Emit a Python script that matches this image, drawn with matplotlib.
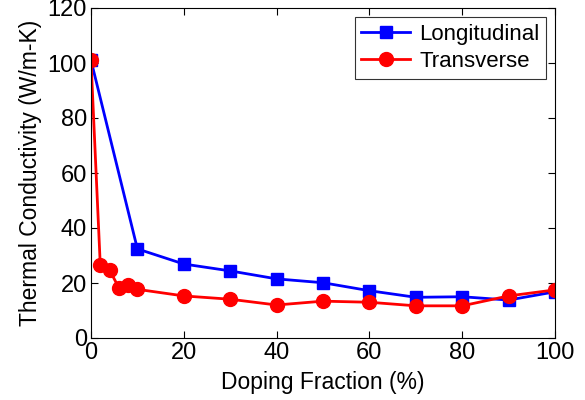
import numpy as np
import matplotlib.pyplot as plt

plt.rcParams['font.family'] = ['Liberation Sans', 'DejaVu Sans']

# Data
x_long = [0, 10, 20, 30, 40, 50, 60, 70, 80, 90, 100]
y_long = [101, 32.4, 26.9, 24.4, 21.5, 20.1, 17.2, 14.8, 15.0, 13.8, 16.8]

x_trans = [0, 2, 4, 6, 8, 10, 20, 30, 40, 50, 60, 70, 80, 90, 100]
y_trans = [101, 26.5, 24.7, 18.3, 19.3, 17.7, 15.3, 14.1, 12.0, 13.4, 13.0, 11.7, 11.7, 15.3, 17.5]

fig = plt.figure(figsize=(5.85, 4), dpi=100)
ax = fig.add_axes([91/585, 62/400, 464/585, 330/400])

ax.plot(x_long, y_long, color='blue', marker='s', markersize=9, linewidth=2, label='Longitudinal')
ax.plot(x_trans, y_trans, color='red', marker='o', markersize=10, linewidth=2, label='Transverse')

ax.set_xlim(0, 100)
ax.set_ylim(0, 120)
ax.set_xticks(np.arange(0, 101, 20))
ax.set_yticks(np.arange(0, 121, 20))
ax.tick_params(direction='in', top=True, right=True, labelsize=17, length=5, pad=3)
ax.set_xlabel('Doping Fraction (%)', fontsize=16.5, labelpad=5)
ax.set_ylabel('Thermal Conductivity (W/m-K)', fontsize=16.5, labelpad=4)

leg = ax.legend(loc='upper right', fontsize=16, fancybox=False, edgecolor='black',
                handlelength=2.2, borderaxespad=0.4, borderpad=0.3, labelspacing=0.3,
                handletextpad=0.4)
leg.get_frame().set_linewidth(0.8)

fig.savefig('out.png', dpi=100)
